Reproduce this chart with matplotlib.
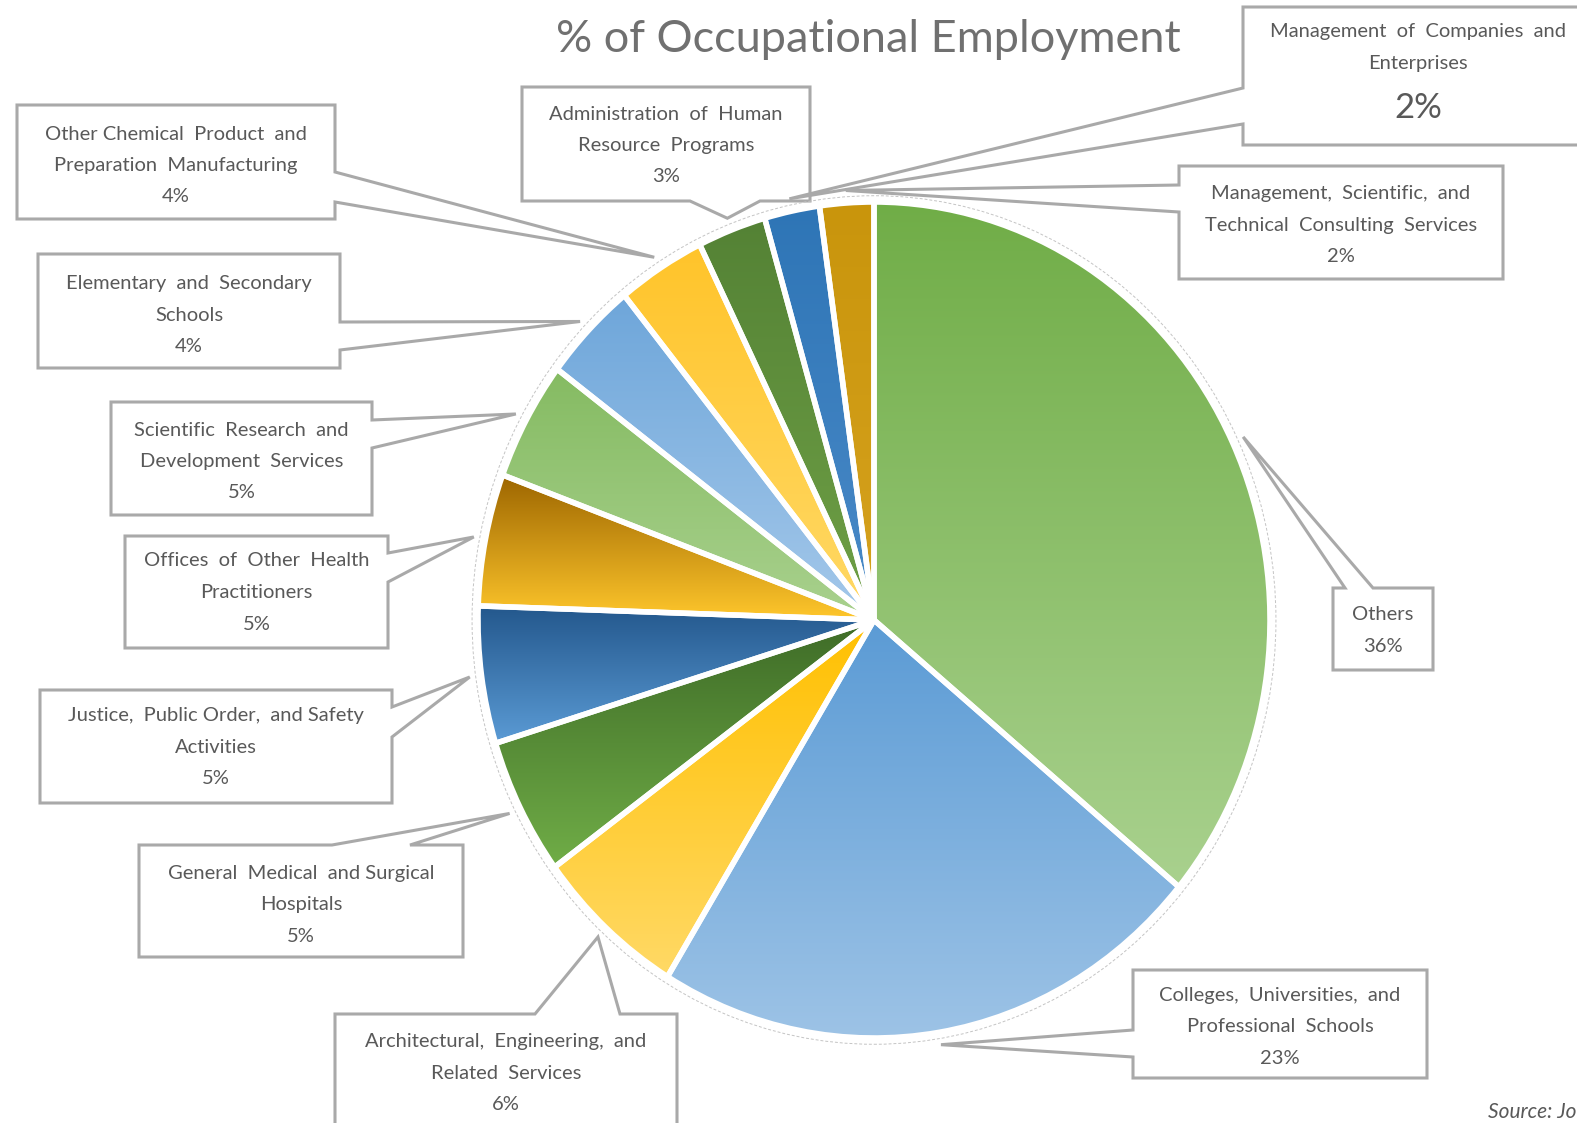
import numpy as np
import matplotlib.pyplot as plt
from matplotlib.colors import LinearSegmentedColormap
from matplotlib.patches import Polygon, Ellipse

plt.rcParams['font.family'] = ['Lato', 'DejaVu Sans']

W, H = 1577, 1123

# slices, clockwise from 12 o'clock
categories = [
    "Others",
    "Colleges,  Universities,  and\nProfessional  Schools",
    "Architectural,  Engineering,  and\nRelated  Services",
    "General  Medical  and Surgical\nHospitals",
    "Justice,  Public Order,  and Safety\nActivities",
    "Offices  of  Other  Health\nPractitioners",
    "Scientific  Research  and\nDevelopment  Services",
    "Elementary  and  Secondary\nSchools",
    "Other Chemical  Product  and\nPreparation  Manufacturing",
    "Administration  of  Human\nResource  Programs",
    "Management  of  Companies  and\nEnterprises",
    "Management,  Scientific,  and\nTechnical  Consulting  Services",
]
shares = [36.0, 22.7, 6.2, 5.3, 5.3, 5.1, 4.6, 3.9, 3.6, 2.8, 2.25, 2.2]

top_colors = ["#70AD47", "#5B9BD5", "#FFC000", "#3E6B27", "#23578C", "#9C6500",
              "#85BB62", "#6EA6DA", "#FFC42A", "#548235", "#2E75B6", "#C9950C"]
bottom_colors = ["#A9D18E", "#9DC3E6", "#FFD966", "#70AD47", "#5B9BD5", "#FFC72C",
                 "#A9D18E", "#A4C8EA", "#FFD966", "#6FA046", "#4A8AC8", "#D6A21E"]

# callout layout in pixels: box (x0, y0, x1, y1), pointer side, pointer base, y of first line
boxes = [
    ((1333, 588, 1433, 670), "top", (1345, 1373), 615),
    ((1133, 970, 1427, 1078), "left", (1030, 1057), 995),
    ((335, 1014, 677, 1140), "top", (535, 620), 1042),
    ((139, 845, 463, 957), "top", (332, 410), 873),
    ((40, 690, 392, 803), "right", (707, 737), 716),
    ((125, 536, 388, 648), "right", (553, 582), 561),
    ((111, 402, 372, 515), "right", (420, 448), 430),
    ((38, 254, 340, 368), "right", (322, 350), 284),
    ((17, 105, 335, 219), "right", (172, 202), 134),
    ((522, 87, 810, 201), "bottom", (690, 760), 114),
    ((1243, 7, 1610, 145), "left", (88, 124), 32),
    ((1179, 166, 1503, 279), "left", (185, 212), 194),
]


def callout(box, side, base, tip):
    x0, y0, x1, y1 = box
    a, b = base
    if side == "top":
        pts = [(x0, y0), (a, y0), tip, (b, y0), (x1, y0), (x1, y1), (x0, y1)]
    elif side == "right":
        pts = [(x0, y0), (x1, y0), (x1, a), tip, (x1, b), (x1, y1), (x0, y1)]
    elif side == "bottom":
        pts = [(x0, y0), (x1, y0), (x1, y1), (b, y1), tip, (a, y1), (x0, y1)]
    else:
        pts = [(x0, y0), (x1, y0), (x1, y1), (x0, y1), (x0, b), tip, (x0, a)]
    return Polygon(pts, closed=True, facecolor="white", edgecolor="#A9A9A9",
                   linewidth=2.2, joinstyle="miter")


fig = plt.figure(figsize=(W / 100, H / 100), dpi=100)
ov = fig.add_axes([0, 0, 1, 1], zorder=0)
ov.set_xlim(0, W)
ov.set_ylim(H, 0)
ov.axis("off")

# pie is slightly taller than wide in the reference
cx, cy, rx, ry = 874, 620, 396, 418
pad = 1.06
ax = fig.add_axes([(cx - pad * rx) / W, (H - cy - pad * ry) / H,
                   2 * pad * rx / W, 2 * pad * ry / H], zorder=1)
wedges, _ = ax.pie(shares, startangle=90, counterclock=False, radius=1,
                   wedgeprops=dict(facecolor="none", edgecolor="white",
                                   linewidth=4, joinstyle="round", zorder=3))

grad = np.linspace(0, 1, 256).reshape(-1, 1)
for w, c0, c1 in zip(wedges, top_colors, bottom_colors):
    bb = w.get_path().get_extents()
    cmap = LinearSegmentedColormap.from_list("g", [c0, c1])
    im = ax.imshow(grad, cmap=cmap, extent=(bb.x0, bb.x1, bb.y0, bb.y1),
                   origin="upper", aspect="auto", zorder=2, interpolation="bilinear")
    im.set_clip_path(w)

ax.add_patch(Ellipse((0, 0), 2.03, 2.03, fill=False, edgecolor="#C4C4C4",
                     linewidth=0.7, linestyle=(0, (3, 2)), zorder=1))
ax.set_aspect("auto")
ax.set_xlim(-pad, pad)
ax.set_ylim(-pad, pad)
ax.axis("off")
ax.patch.set_visible(False)

to_px = ax.transData + ov.transData.inverted()
for i, (w, name, share) in enumerate(zip(wedges, categories, shares)):
    box, side, base, ty = boxes[i]
    mid = np.deg2rad((w.theta1 + w.theta2) / 2)
    tip = to_px.transform((1.03 * np.cos(mid), 1.03 * np.sin(mid)))
    ov.add_patch(callout(box, side, base, tuple(tip)))
    xc = (box[0] + box[2]) / 2
    if i == 10:
        xc = 1418
    lines = name.split("\n")
    for k, line in enumerate(lines):
        ov.text(xc, ty + 31.5 * k, line, ha="center", va="center",
                fontsize=14.5, color="#595959")
    pct = f"{round(share)}%"
    if i == 10:
        ov.text(xc, 108, pct, ha="center", va="center", fontsize=25, color="#595959")
    else:
        ov.text(xc, ty + 31.5 * len(lines), pct, ha="center", va="center",
                fontsize=14.5, color="#595959")

ov.text(868, 40, "% of Occupational Employment", ha="center", va="center",
        fontsize=32.5, color="#707070")
ov.text(W - 1, 1112, "Source: Jo", ha="right", va="center", fontsize=15,
        style="italic", color="#595959")

fig.savefig("out.png", dpi=100)
